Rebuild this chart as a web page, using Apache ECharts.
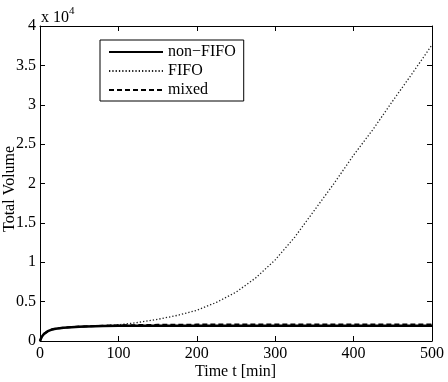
<!DOCTYPE html>
<html>
<head>
<meta charset="utf-8">
<script src="https://cdn.jsdelivr.net/npm/echarts@6/dist/echarts.min.js"></script>
<style>html,body{margin:0;padding:0;background:#fff}#c{width:448px;height:382px}</style>
</head>
<body>
<div id="c"></div>
<script>
var times   = [0, 2, 5, 10, 15, 20, 30, 40, 50, 60, 80, 100, 125, 150, 175, 200, 225, 250, 275, 300, 325, 350, 375, 400, 425, 450, 475, 500];
var nonFifo = [0, 500, 900, 1250, 1450, 1560, 1680, 1760, 1810, 1850, 1900, 1930, 1940, 1950, 1950, 1950, 1950, 1950, 1950, 1950, 1950, 1950, 1950, 1950, 1950, 1950, 1950, 1950];
var mixed   = [0, 500, 900, 1250, 1450, 1560, 1690, 1770, 1830, 1870, 1930, 1980, 2020, 2050, 2070, 2080, 2090, 2090, 2100, 2100, 2100, 2100, 2100, 2100, 2100, 2100, 2100, 2100];
var fifo    = [0, 500, 900, 1250, 1450, 1560, 1690, 1770, 1830, 1880, 1950, 2050, 2350, 2750, 3250, 3900, 4900, 6200, 8000, 10300, 13200, 16600, 20000, 23600, 26900, 30500, 34000, 37600];
var xTicks = [0, 100, 200, 300, 400, 500];
var yTicks = [0, 0.5, 1, 1.5, 2, 2.5, 3, 3.5, 4];
var seriesNames = ['non\u2212FIFO', 'FIFO', 'mixed'];

function pairs(v){ return times.map(function(t,i){ return [t, v[i]]; }); }

var serif = '"Liberation Serif", "DejaVu Serif", serif';
var chart = echarts.init(document.getElementById('c'), null, {renderer:'canvas'});
var axisCommon = {
  type:'value',
  axisLine:{show:true, onZero:false, lineStyle:{color:'#000', width:1}},
  axisTick:{show:true, inside:true, length:5, lineStyle:{color:'#000'}},
  splitLine:{show:false}
};
chart.setOption({
  animation:false,
  backgroundColor:'#fff',
  grid:{left:40, right:16, top:26, bottom:41},
  legend:{
    data:seriesNames,
    orient:'vertical', left:100, top:40,
    backgroundColor:'#fff', borderColor:'#000', borderWidth:1,
    padding:[4,8,3,8], itemGap:3, itemWidth:54, itemHeight:16,
    itemStyle:{opacity:0},
    textStyle:{fontFamily:serif, fontSize:16, color:'#000'}
  },
  xAxis:[
    Object.assign({}, axisCommon, {position:'bottom', min:0, max:500, interval:100,
      axisLabel:{color:'#000', fontFamily:serif, fontSize:16, margin:5}}),
    Object.assign({}, axisCommon, {position:'top', min:0, max:500, interval:100, axisLabel:{show:false}})
  ],
  yAxis:[
    Object.assign({}, axisCommon, {position:'left', min:0, max:40000, interval:5000,
      axisLabel:{color:'#000', fontFamily:serif, fontSize:16, margin:4,
        formatter:function(v){ return String(v/10000); }}}),
    Object.assign({}, axisCommon, {position:'right', min:0, max:40000, interval:5000, axisLabel:{show:false}})
  ],
  graphic:[
    {type:'text', x:41, y:10, style:{text:'x 10', font:'16px ' + serif, fill:'#000'}},
    {type:'text', x:69, y:6, style:{text:'4', font:'11px ' + serif, fill:'#000'}},
    {type:'text', x:195, y:364, style:{text:'Time t [min]', font:'16px ' + serif, fill:'#000'}},
    {type:'text', x:2, y:232, rotation:Math.PI/2, style:{text:'Total Volume', font:'16px ' + serif, fill:'#000'}}
  ],
  series:[
    {name:'FIFO', type:'line', data:pairs(fifo), symbol:'none', smooth:false,
      lineStyle:{color:'#222', width:1.3, type:[1.3,2]}, itemStyle:{color:'#222'}, z:2},
    {name:'non\u2212FIFO', type:'line', data:pairs(nonFifo), symbol:'none', smooth:false,
      lineStyle:{color:'#000', width:2.5, type:'solid'}, itemStyle:{color:'#000'}, z:3},
    {name:'mixed', type:'line', data:pairs(mixed), symbol:'none', smooth:false,
      lineStyle:{color:'#000', width:2, type:[5,3]}, itemStyle:{color:'#000'}, z:4}
  ]
});
</script>
</body>
</html>
